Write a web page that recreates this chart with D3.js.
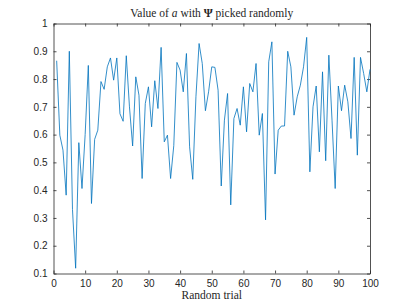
<!DOCTYPE html>
<html>
<head>
<meta charset="utf-8">
<script src="https://cdn.jsdelivr.net/npm/d3@7"></script>
<style>
  body { margin: 0; background: #fff; }
  .axis text { font-family: "Liberation Sans", Arial, sans-serif; font-size: 10px; fill: #262626; }
  .axis path, .axis line { stroke: #262626; stroke-width: 0.8; }
  .lbl { font-family: "Liberation Serif", "DejaVu Serif", serif; fill: #262626; }
</style>
</head>
<body>
<div id="chart"></div>
<script>
// trial index and value of a
const trials = d3.range(1, 101);
const values = [
  0.866, 0.598, 0.544, 0.382, 0.900, 0.330, 0.119, 0.571, 0.406, 0.600,
  0.849, 0.352, 0.583, 0.616, 0.791, 0.763, 0.844, 0.876, 0.796, 0.876,
  0.675, 0.648, 0.884, 0.700, 0.559, 0.808, 0.742, 0.442, 0.712, 0.772,
  0.628, 0.794, 0.694, 0.914, 0.574, 0.598, 0.442, 0.560, 0.860, 0.832,
  0.754, 0.892, 0.556, 0.439, 0.736, 0.928, 0.856, 0.686, 0.754, 0.844,
  0.842, 0.760, 0.415, 0.652, 0.748, 0.347, 0.658, 0.694, 0.634, 0.772,
  0.610, 0.784, 0.754, 0.856, 0.598, 0.676, 0.293, 0.862, 0.934, 0.458,
  0.616, 0.631, 0.631, 0.900, 0.844, 0.670, 0.736, 0.778, 0.844, 0.950,
  0.466, 0.700, 0.775, 0.538, 0.826, 0.506, 0.886, 0.652, 0.406, 0.775,
  0.686, 0.778, 0.718, 0.586, 0.878, 0.526, 0.878, 0.820, 0.754, 0.835
];
const xTicks = d3.range(0, 101, 10);
const yTicks = [0.1, 0.2, 0.3, 0.4, 0.5, 0.6, 0.7, 0.8, 0.9, 1];

const W = 409, H = 307;
const margin = { top: 23.5, right: 39, bottom: 33.5, left: 53.5 };
const width = W - margin.left - margin.right;
const height = H - margin.top - margin.bottom;

const svg = d3.select("#chart")
  .append("svg")
  .attr("width", W)
  .attr("height", H);

const g = svg.append("g")
  .attr("transform", "translate(" + margin.left + "," + margin.top + ")");

const x = d3.scaleLinear().domain([0, 100]).range([0, width]);
const y = d3.scaleLinear().domain([0.1, 1]).range([height, 0]);

// axes, ticks inward on all four sides
g.append("g")
  .attr("class", "axis")
  .attr("transform", "translate(0," + height + ")")
  .call(d3.axisBottom(x).tickValues(xTicks).tickSizeInner(-3).tickSizeOuter(0).tickPadding(6));

g.append("g")
  .attr("class", "axis")
  .call(d3.axisTop(x).tickValues(xTicks).tickSizeInner(-3).tickSizeOuter(0).tickFormat(""));

g.append("g")
  .attr("class", "axis")
  .call(d3.axisLeft(y).tickValues(yTicks).tickSizeInner(-3).tickSizeOuter(0).tickPadding(6).tickFormat(d3.format("~g")));

g.append("g")
  .attr("class", "axis")
  .attr("transform", "translate(" + width + ",0)")
  .call(d3.axisRight(y).tickValues(yTicks).tickSizeInner(-3).tickSizeOuter(0).tickFormat(""));

// data line
const line = d3.line()
  .x((d, i) => x(trials[i]))
  .y(d => y(d));

g.append("path")
  .datum(values)
  .attr("fill", "none")
  .attr("stroke", "#0072BD")
  .attr("stroke-width", 0.8)
  .attr("stroke-linejoin", "round")
  .attr("d", line);

// title
const title = svg.append("text")
  .attr("class", "lbl")
  .attr("x", margin.left + width / 2)
  .attr("y", 17)
  .attr("text-anchor", "middle")
  .style("font-size", "11.5px");
title.append("tspan").text("Value of ");
title.append("tspan").style("font-style", "italic").text("a");
title.append("tspan").text(" with ");
title.append("tspan").style("font-weight", "bold").text("Ψ");
title.append("tspan").text(" picked randomly");

// x label
svg.append("text")
  .attr("class", "lbl")
  .attr("x", margin.left + width / 2)
  .attr("y", 299)
  .attr("text-anchor", "middle")
  .style("font-size", "11.5px")
  .text("Random trial");
</script>
</body>
</html>
